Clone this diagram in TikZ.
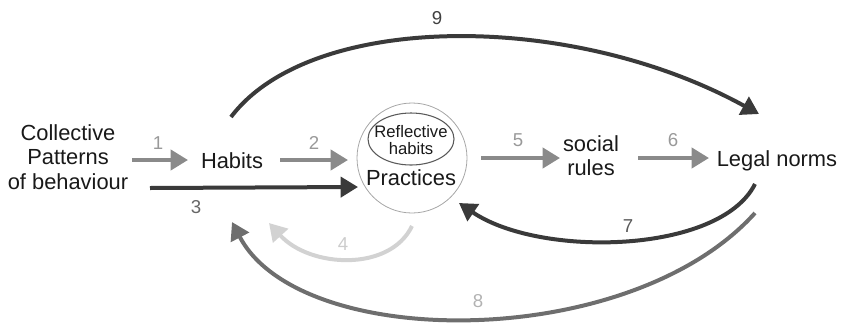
\documentclass[tikz,border=0pt]{standalone}
\usepackage{fontspec}
\setmainfont{Liberation Sans}
\usetikzlibrary{arrows.meta,shapes.geometric}
\definecolor{cdark}{HTML}{3A3A3A}
\definecolor{cmid}{HTML}{8A8A8A}
\definecolor{cgrey}{HTML}{6E6E6E}
\definecolor{clight}{HTML}{D2D2D2}
\begin{document}
\begin{tikzpicture}[x=0.75pt,y=-0.75pt,
  txt/.style={font=\fontsize{16.4}{19}\selectfont, text=black!90, align=center, inner sep=0pt},
  lbl/.style={font=\fontsize{14}{16}\selectfont, inner sep=0pt},
  arr/.style={line width=3pt, -{Triangle[length=13pt,width=15pt]}},
]
\useasboundingbox (0,0) rectangle (847,326);
% nodes
\node[txt] (cp) at (68,157) {Collective\\[-0.5pt]Patterns\\[-0.5pt]of behaviour};
\node[txt] (hab) at (232,161) {Habits};
\node[draw=black!35, line width=0.6pt, circle, minimum size=82.5pt, inner sep=0pt] (pr) at (412,158) {};
\node[draw=black!65, line width=0.8pt, ellipse, minimum width=64.5pt, minimum height=39pt, inner sep=0pt] (ref) at (411,139) {};
\node[font=\fontsize{12.5}{14}\selectfont, text=black!90, align=center, inner sep=0pt] (reft) at (411,140) {Reflective\\[-1pt]habits};
\node[txt] (prt) at (411,178) {Practices};
\node[txt] (soc) at (591,156) {social\\[-1pt]rules};
\node[txt] (leg) at (777,161) {Legal norms};
% coordinates
\coordinate (a1s) at (132,160); \coordinate (a1e) at (188,160);
\coordinate (a2s) at (280,160); \coordinate (a2e) at (348,160);
\coordinate (a3s) at (150,188); \coordinate (a3e) at (358,187);
\coordinate (a5s) at (481,158); \coordinate (a5e) at (560,158);
\coordinate (a6s) at (638,158); \coordinate (a6e) at (709,158);
\coordinate (a9s) at (231,117); \coordinate (a9e) at (759,114);
\coordinate (a7s) at (755,184); \coordinate (a7e) at (459,203);
\coordinate (a8s) at (755,213); \coordinate (a8e) at (232,222);
\coordinate (a4s) at (412,226); \coordinate (a4e) at (269,223);
% arrows
\draw[arr, cmid] (a1s) -- (a1e);
\draw[arr, cmid] (a2s) -- (a2e);
\draw[arr, cdark] (a3s) -- (a3e);
\draw[arr, cmid] (a5s) -- (a5e);
\draw[arr, cmid] (a6s) -- (a6e);
\draw[arr, cdark] (a9s) .. controls (310,12) and (570,10) .. (a9e);
\draw[arr, cdark] (a7s) .. controls (720,254) and (540,258) .. (a7e);
\draw[arr, cgrey] (a8s) .. controls (630,352) and (300,352) .. (a8e);
\draw[arr, clight] (a4s) .. controls (390,272) and (310,268) .. (a4e);
% labels
\node[lbl, text=black!40] (l1) at (158,143) {1};
\node[lbl, text=black!40] (l2) at (314,143) {2};
\node[lbl, text=black!60] (l3) at (196,207) {3};
\node[lbl, text=black!20] (l4) at (343,244) {4};
\node[lbl, text=black!40] (l5) at (518,140) {5};
\node[lbl, text=black!40] (l6) at (673,140) {6};
\node[lbl, text=black!65] (l7) at (628,226) {7};
\node[lbl, text=black!30] (l8) at (478,301) {8};
\node[lbl, text=black!75] (l9) at (437,18) {9};
\end{tikzpicture}
\end{document}
